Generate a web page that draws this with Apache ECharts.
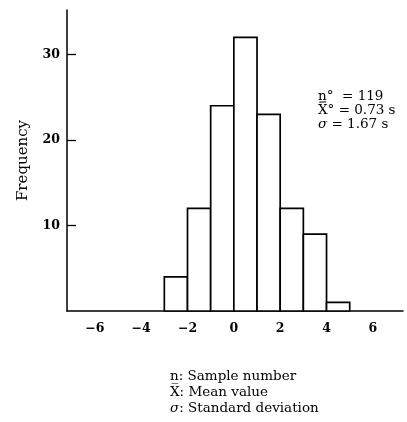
<!DOCTYPE html>
<html>
<head>
<meta charset="utf-8">
<script src="https://cdn.jsdelivr.net/npm/echarts@6/dist/echarts.min.js"></script>
<style>
  html, body { margin: 0; padding: 0; background: #fff; }
  #chart { width: 407px; height: 422px; }
</style>
</head>
<body>
<div id="chart"></div>
<script>
// bins are 1 s wide, starting at these values
var binStarts = [-3, -2, -1, 0, 1, 2, 3, 4];
var counts = [4, 12, 24, 32, 23, 12, 9, 1];
var xTicks = [-6, -4, -2, 0, 2, 4, 6];
var yTicks = [10, 20, 30];
var statLines = ['n\u0332\u00b0  = 119', 'X\u0305\u00b0 = 0.73 s', '{i|\u03c3} = 1.67 s'];
var noteLines = ['n: Sample number', 'X\u0305: Mean value', '{i|\u03c3}: Standard deviation'];

var serif = '"DejaVu Serif", "Liberation Serif", serif';

var chart = echarts.init(document.getElementById('chart'));

var barData = [];
for (var i = 0; i < binStarts.length; i++) {
    barData.push([binStarts[i], binStarts[i] + 1, counts[i]]);
}

var option = {
    animation: false,
    backgroundColor: '#fff',
    grid: { left: 67, right: 4, top: 10, bottom: 111 },
    xAxis: {
        type: 'value',
        min: -7.2,
        max: 7.3,
        axisLine: { show: true, onZero: false, lineStyle: { color: '#000', width: 1.5 } },
        axisTick: { show: false },
        splitLine: { show: false },
        axisLabel: {
            customValues: xTicks,
            color: '#000',
            fontFamily: serif,
            fontWeight: 'bold',
            fontSize: 12.5,
            margin: 11,
            formatter: function (v) { return String(v).replace('-', '\u2212'); }
        }
    },
    yAxis: {
        type: 'value',
        min: 0,
        max: 35.2,
        name: 'Frequency',
        nameLocation: 'middle',
        nameRotate: 90,
        nameGap: 36,
        nameTextStyle: { color: '#000', fontFamily: serif, fontSize: 15 },
        axisLine: { show: true, onZero: false, lineStyle: { color: '#000', width: 1.5 } },
        axisTick: { show: true, inside: true, length: 9, customValues: yTicks, lineStyle: { color: '#000', width: 1.3 } },
        splitLine: { show: false },
        axisLabel: {
            customValues: yTicks,
            color: '#000',
            fontFamily: serif,
            fontWeight: 'bold',
            fontSize: 12.5,
            margin: 7
        }
    },
    series: [{
        type: 'custom',
        data: barData,
        renderItem: function (params, api) {
            var p0 = api.coord([api.value(0), 0]);
            var p1 = api.coord([api.value(1), api.value(2)]);
            return {
                type: 'rect',
                shape: { x: p0[0], y: p1[1], width: p1[0] - p0[0], height: p0[1] - p1[1] },
                style: { fill: '#fff', stroke: '#000', lineWidth: 1.7 }
            };
        }
    }],
    graphic: [
        {
            type: 'text', left: 318, top: 89,
            style: {
                text: statLines.join('\n'),
                fontFamily: serif, fontSize: 13.5,
                fill: '#000', lineHeight: 14,
                rich: { i: { fontFamily: serif, fontSize: 13.5, fontStyle: 'italic', lineHeight: 14 } }
            }
        },
        {
            type: 'text', left: 170, top: 368,
            style: {
                text: noteLines.join('\n'),
                fontFamily: serif, fontSize: 13.5,
                fill: '#000', lineHeight: 16,
                rich: { i: { fontFamily: serif, fontSize: 13.5, fontStyle: 'italic', lineHeight: 16 } }
            }
        }
    ]
};

chart.setOption(option);
</script>
</body>
</html>
